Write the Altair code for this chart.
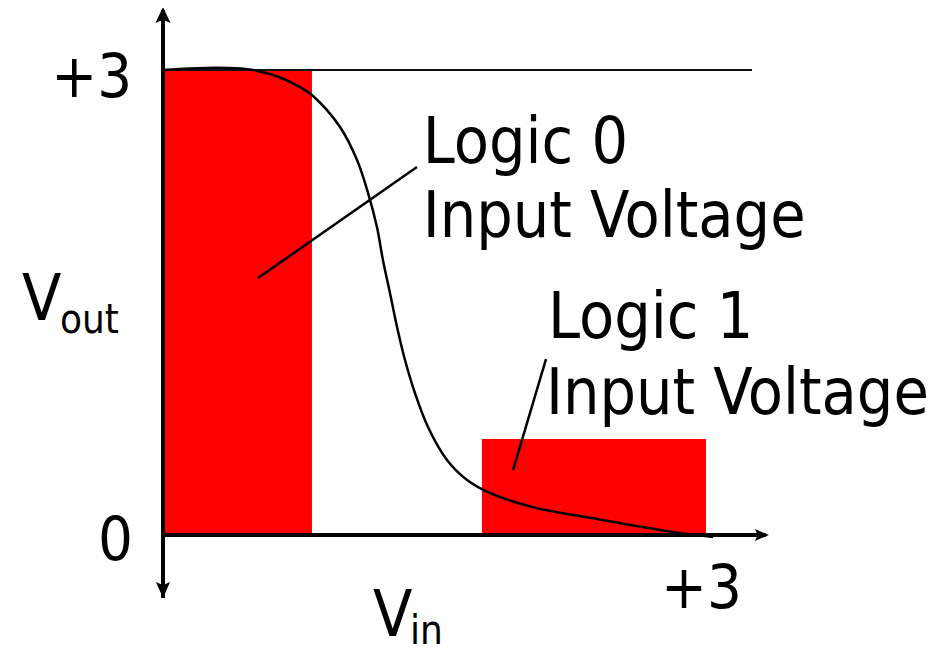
import altair as alt
import pandas as pd

# ---- data (in volts) ----
curve_vin = [0.0, 0.149, 0.298, 0.425, 0.497, 0.640, 0.757, 0.829, 0.978,
             1.072, 1.133, 1.182, 1.215, 1.254, 1.293, 1.337, 1.392, 1.464, 1.569, 1.680,
             1.807, 2.044, 2.414, 2.785, 3.039]
curve_vout = [3.0, 3.010, 3.015, 3.010, 3.0, 2.955, 2.890, 2.832, 2.632,
              2.419, 2.206, 1.987, 1.774, 1.561, 1.342, 1.129, 0.916, 0.697, 0.484, 0.355,
              0.271, 0.180, 0.100, 0.025, -0.013]

band_names = ["Logic 0 Input Voltage", "Logic 1 Input Voltage"]
band_x0 = [0.0, 1.762]
band_x1 = [0.823, 3.0]
band_y0 = [0.0, 0.0]
band_y1 = [3.0, 0.619]

vdd = 3.0
vdd_line_end = 3.254

# pointer lines from band to label
ptr_x0 = [0.525, 1.934]
ptr_y0 = [1.658, 0.419]
ptr_x1 = [1.403, 2.116]
ptr_y1 = [2.374, 1.135]

# axes (with arrows)
axis_x0 = [0.0, 0.0]
axis_y0 = [-0.406, 0.0]
axis_x1 = [0.0, 3.331]
axis_y1 = [3.387, 0.0]

# labels
left_text = ["Logic 0", "Input Voltage", "Logic 1", "Input Voltage", "V", "out", "V", "in"]
left_x = [1.435, 1.435, 2.127, 2.116, -0.779, -0.569, 1.160, 1.365]
left_y = [2.400, 1.923, 1.271, 0.781, 1.387, 1.303, -0.652, -0.705]
left_size = [64, 64, 64, 64, 64, 40, 64, 40]

tick_text = ["+3", "0"]
tick_x = [-0.171, -0.166]
tick_y = [2.826, -0.161]

xtick_text = ["+3"]
xtick_x = [2.975]
xtick_y = [-0.471]

FONT = "DejaVu Sans Condensed"

xs = alt.Scale(domain=[-155 / 181, 768 / 181], nice=False, zero=False)
ys = alt.Scale(domain=[(527 - 638) / 155, 527 / 155], nice=False, zero=False)


def X(f):
    return alt.X(f, type="quantitative", scale=xs, axis=None)


def Y(f):
    return alt.Y(f, type="quantitative", scale=ys, axis=None)


bands = pd.DataFrame({"name": band_names, "x0": band_x0, "x1": band_x1,
                      "y0": band_y0, "y1": band_y1})
rects = alt.Chart(bands).mark_rect(color="#ff0000").encode(
    x=X("x0"), x2="x1", y=Y("y0"), y2="y1")

top = pd.DataFrame({"x0": [0.0], "x1": [vdd_line_end], "y": [vdd]})
top_line = alt.Chart(top).mark_rule(color="#111111", strokeWidth=2).encode(
    x=X("x0"), x2="x1", y=Y("y"))

curve = pd.DataFrame({"vin": curve_vin, "vout": curve_vout})
curve_line = alt.Chart(curve).mark_line(color="black", strokeWidth=2.5,
                                        interpolate="catmull-rom").encode(
    x=X("vin"), y=Y("vout"), order="vin:Q")

ptr = pd.DataFrame({"x0": ptr_x0, "y0": ptr_y0, "x1": ptr_x1, "y1": ptr_y1})
ptr_lines = alt.Chart(ptr).mark_rule(color="black", strokeWidth=2.5).encode(
    x=X("x0"), y=Y("y0"), x2="x1", y2="y1")

ax = pd.DataFrame({"x0": axis_x0, "y0": axis_y0, "x1": axis_x1, "y1": axis_y1})
axes = alt.Chart(ax).mark_rule(color="black", strokeWidth=4).encode(
    x=X("x0"), y=Y("y0"), x2="x1", y2="y1")

arrow_up = alt.Chart(pd.DataFrame({"x": [0.0], "y": [3.355]})).mark_point(
    shape="M0,-1L0.94,1L0,0.6L-0.94,1Z", filled=True, size=256, color="black",
    opacity=1, strokeWidth=0).encode(x=X("x"), y=Y("y"))
arrow_down = alt.Chart(pd.DataFrame({"x": [0.0], "y": [-0.355]})).mark_point(
    shape="M0,1L0.88,-1L0,-0.6L-0.88,-1Z", filled=True, size=256, color="black",
    opacity=1, strokeWidth=0).encode(x=X("x"), y=Y("y"))
arrow_right = alt.Chart(pd.DataFrame({"x": [3.309], "y": [0.0]})).mark_point(
    shape="M1,0L-1,0.85L-0.6,0L-1,-0.85Z", filled=True, size=196, color="black",
    opacity=1, strokeWidth=0).encode(x=X("x"), y=Y("y"))

lt = pd.DataFrame({"t": left_text, "x": left_x, "y": left_y, "s": left_size})
left_labels = alt.Chart(lt).mark_text(align="left", baseline="alphabetic",
                                      font=FONT, color="black").encode(
    x=X("x"), y=Y("y"), text="t:N", size=alt.Size("s:Q", scale=None))

tt = pd.DataFrame({"t": tick_text, "x": tick_x, "y": tick_y})
tick_labels = alt.Chart(tt).mark_text(align="right", baseline="alphabetic",
                                      font=FONT, fontSize=61, color="black").encode(
    x=X("x"), y=Y("y"), text="t:N")

xt = pd.DataFrame({"t": xtick_text, "x": xtick_x, "y": xtick_y})
xtick_labels = alt.Chart(xt).mark_text(align="center", baseline="alphabetic",
                                       font=FONT, fontSize=61, color="black").encode(
    x=X("x"), y=Y("y"), text="t:N")

chart = alt.layer(
    rects, top_line, curve_line, ptr_lines, axes, arrow_up, arrow_down, arrow_right,
    left_labels, tick_labels, xtick_labels
).properties(
    width=923, height=638, padding=0,
    autosize=alt.AutoSizeParams(type="none"),
    background="white"
).configure_view(stroke=None)

chart.save("out.html", embed_options={"renderer": "svg", "actions": False})
